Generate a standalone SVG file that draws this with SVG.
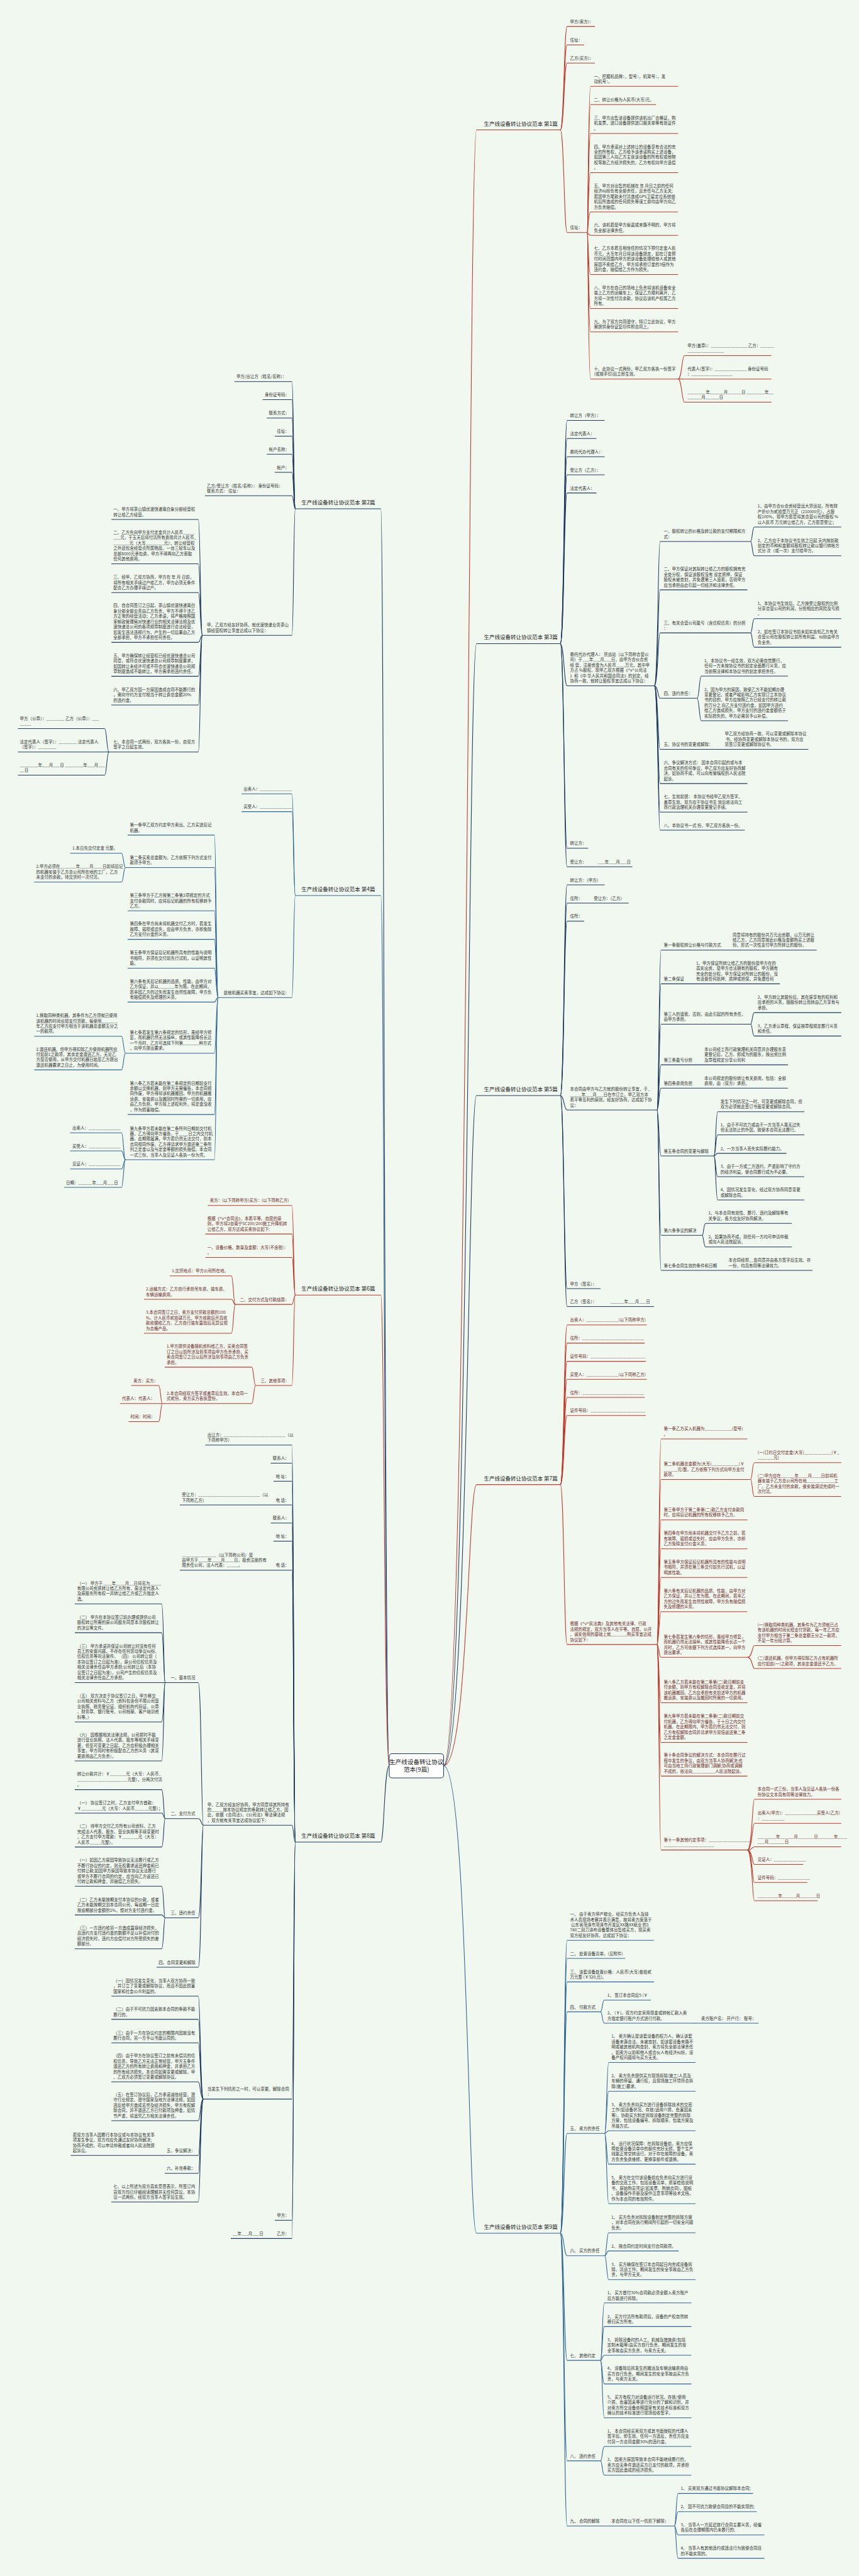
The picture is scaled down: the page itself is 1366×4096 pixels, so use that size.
<svg xmlns="http://www.w3.org/2000/svg" width="1366" height="4096" viewBox="0 0 1366 4096">
<style>
text{font-family:"Noto Sans CJK SC","Noto Sans",sans-serif;font-size:12.2px;fill:#333;stroke:none}
.lab{font-size:16px;fill:#222}
.ctr{font-size:18px;fill:#222}
path{fill:none;stroke-width:2}
.r{stroke:#c0392b}.n{stroke:#1f3a5f}.b{stroke:#2e6496}
.tr{fill:#6e1f1f}
</style>
<rect width="1366" height="4096" fill="#f0f8ef"/>
<g transform="scale(0.53359375)">
<g id="connectors">
<path class="r" d="M1322,5262 C1395,5262 1395,387 1420,387"/>
<path class="n" d="M1322,5262 C1395,5262 1395,1918 1420,1918"/>
<path class="n" d="M1322,5262 C1395,5262 1395,3264.7 1420,3264.7"/>
<path class="r" d="M1322,5262 C1395,5262 1395,4424 1420,4424"/>
<path class="b" d="M1322,5262 C1395,5262 1395,6655 1420,6655"/>
<path class="n" d="M1160,5262 C1145,5262 1145,1516 1135,1516"/>
<path class="b" d="M1160,5262 C1145,5262 1145,2668.7 1135,2668.7"/>
<path class="r" d="M1160,5262 C1145,5262 1145,3859.3 1135,3859.3"/>
<path class="n" d="M1160,5262 C1145,5262 1145,5489.3 1135,5489.3"/>
<g class="r">
<path d="M1670,387 C1681,387 1681,79 1690,79"/><path d="M1670,387 C1681,387 1681,134 1690,134"/><path d="M1670,387 C1681,387 1681,188 1690,188"/><path d="M1670,387 C1681,387 1681,693 1690,693"/>
<path d="M1750,693 C1753,693 1753,257.3 1760,257.3"/><path d="M1750,693 C1753,693 1753,311.4 1760,311.4"/><path d="M1750,693 C1753,693 1753,397.7 1760,397.7"/><path d="M1750,693 C1753,693 1753,514.6 1760,514.6"/><path d="M1750,693 C1753,693 1753,631.4 1760,631.4"/><path d="M1750,693 C1753,693 1753,701.3 1760,701.3"/><path d="M1750,693 C1753,693 1753,818.1 1760,818.1"/><path d="M1750,693 C1753,693 1753,919.3 1760,919.3"/><path d="M1750,693 C1753,693 1753,989.1 1760,989.1"/><path d="M1750,693 C1753,693 1753,1129.5 1760,1129.5"/>
<path d="M2021,1129.5 C2032,1129.5 2032,1059.8 2040,1059.8"/><path d="M2021,1129.5 H2040"/><path d="M2021,1129.5 C2032,1129.5 2032,1198.6 2040,1198.6"/>
</g>
<g class="n">
<path d="M1670,1918 C1681,1918 1681,1252.7 1690,1252.7"/><path d="M1670,1918 C1681,1918 1681,1306.8 1690,1306.8"/><path d="M1670,1918 C1681,1918 1681,1360.9 1690,1360.9"/><path d="M1670,1918 C1681,1918 1681,1415 1690,1415"/><path d="M1670,1918 C1681,1918 1681,1469 1690,1469"/><path d="M1670,1918 C1681,1918 1681,2043.6 1690,2043.6"/><path d="M1670,1918 C1681,1918 1681,2527.7 1690,2527.7"/><path d="M1670,1918 C1681,1918 1681,2582.8 1690,2582.8"/>
<path d="M1950,2043.6 C1961,2043.6 1961,1613.7 1967,1613.7"/><path d="M1950,2043.6 C1961,2043.6 1961,1757.7 1967,1757.7"/><path d="M1950,2043.6 C1961,2043.6 1961,1886 1967,1886"/><path d="M1950,2043.6 C1961,2043.6 1961,2080.8 1967,2080.8"/><path d="M1950,2043.6 C1961,2043.6 1961,2233 1967,2233"/><path d="M1950,2043.6 C1961,2043.6 1961,2334.9 1967,2334.9"/><path d="M1950,2043.6 C1961,2043.6 1961,2420 1967,2420"/><path d="M1950,2043.6 C1961,2043.6 1961,2473.9 1967,2473.9"/>
<path d="M2237,1613.7 C2242,1613.7 2242,1570.4 2248,1570.4"/><path d="M2237,1613.7 C2242,1613.7 2242,1656.3 2248,1656.3"/>
<path d="M2237,1886 C2242,1886 2242,1843.6 2248,1843.6"/><path d="M2237,1886 C2242,1886 2242,1928.7 2248,1928.7"/>
<path d="M2077.5,2080.8 C2084,2080.8 2084,2014.6 2090,2014.6"/><path d="M2077.5,2080.8 C2084,2080.8 2084,2147.8 2090,2147.8"/>
<path d="M2130,2233 H2140"/>
</g>
<g class="n">
<path d="M1670,3264.7 C1681,3264.7 1681,2636.7 1690,2636.7"/><path d="M1670,3264.7 C1681,3264.7 1681,2691.2 1690,2691.2"/><path d="M1670,3264.7 C1681,3264.7 1681,2745 1690,2745"/><path d="M1670,3264.7 C1681,3264.7 1681,3307.6 1690,3307.6"/><path d="M1670,3264.7 C1681,3264.7 1681,3840 1690,3840"/><path d="M1670,3264.7 C1681,3264.7 1681,3893.4 1690,3893.4"/>
<path d="M1958,3307.6 C1964,3307.6 1964,2831.4 1970,2831.4"/><path d="M1958,3307.6 C1964,3307.6 1964,2931.8 1970,2931.8"/><path d="M1958,3307.6 C1964,3307.6 1964,3051.8 1970,3051.8"/><path d="M1958,3307.6 C1964,3307.6 1964,3173 1970,3173"/><path d="M1958,3307.6 C1964,3307.6 1964,3242.8 1970,3242.8"/><path d="M1958,3307.6 C1964,3307.6 1964,3444.6 1970,3444.6"/><path d="M1958,3307.6 C1964,3307.6 1964,3681 1970,3681"/><path d="M1958,3307.6 C1964,3307.6 1964,3785.6 1970,3785.6"/>
<path d="M2237,3051.8 C2242,3051.8 2242,3017.5 2248,3017.5"/><path d="M2237,3051.8 C2242,3051.8 2242,3087.3 2248,3087.3"/>
<path d="M2127.7,3444.6 C2133,3444.6 2133,3312.8 2139,3312.8"/><path d="M2127.7,3444.6 C2133,3444.6 2133,3381.9 2139,3381.9"/><path d="M2127.7,3444.6 C2133,3444.6 2133,3436.8 2139,3436.8"/><path d="M2127.7,3444.6 C2133,3444.6 2133,3506.4 2139,3506.4"/><path d="M2127.7,3444.6 C2133,3444.6 2133,3575.9 2139,3575.9"/>
<path d="M2092.8,3681 C2097,3681 2097,3645.5 2103,3645.5"/><path d="M2092.8,3681 C2097,3681 2097,3716 2103,3716"/>
</g>
<g class="r">
<path d="M1670,4424 C1681,4424 1681,3948.3 1690,3948.3"/><path d="M1670,4424 C1681,4424 1681,4002.3 1690,4002.3"/><path d="M1670,4424 C1681,4424 1681,4056.7 1690,4056.7"/><path d="M1670,4424 C1681,4424 1681,4110.5 1690,4110.5"/><path d="M1670,4424 C1681,4424 1681,4164.3 1690,4164.3"/><path d="M1670,4424 C1681,4424 1681,4218.2 1690,4218.2"/><path d="M1670,4424 C1681,4424 1681,4900.5 1690,4900.5"/>
<path d="M1958,4900.5 C1964,4900.5 1964,4288 1970,4288"/><path d="M1958,4900.5 C1964,4900.5 1964,4408.7 1970,4408.7"/><path d="M1958,4900.5 C1964,4900.5 1964,4529.3 1970,4529.3"/><path d="M1958,4900.5 C1964,4900.5 1964,4615.3 1970,4615.3"/><path d="M1958,4900.5 C1964,4900.5 1964,4700.7 1970,4700.7"/><path d="M1958,4900.5 C1964,4900.5 1964,4802.7 1970,4802.7"/><path d="M1958,4900.5 C1964,4900.5 1964,4938.8 1970,4938.8"/><path d="M1958,4900.5 C1964,4900.5 1964,5074.2 1970,5074.2"/><path d="M1958,4900.5 C1964,4900.5 1964,5192.1 1970,5192.1"/><path d="M1958,4900.5 C1964,4900.5 1964,5292.6 1970,5292.6"/><path d="M1958,4900.5 C1964,4900.5 1964,5512.8 1970,5512.8"/>
<path d="M2237,4408.7 C2242,4408.7 2242,4358.6 2248,4358.6"/><path d="M2237,4408.7 C2242,4408.7 2242,4459.4 2248,4459.4"/>
<path d="M2227.5,4938.8 C2242,4938.8 2242,4903.6 2248,4903.6"/><path d="M2227.5,4938.8 C2242,4938.8 2242,4972 2248,4972"/>
<path d="M2227.5,5512.8 C2242,5512.8 2242,5361.6 2248,5361.6"/><path d="M2227.5,5512.8 C2242,5512.8 2242,5433.3 2248,5433.3"/><path d="M2227.5,5512.8 C2242,5512.8 2242,5503.1 2248,5503.1"/><path d="M2227.5,5512.8 C2242,5512.8 2242,5555.6 2248,5555.6"/><path d="M2227.5,5512.8 C2242,5512.8 2242,5609.7 2248,5609.7"/><path d="M2227.5,5512.8 C2242,5512.8 2242,5663.9 2248,5663.9"/>
</g>
<g class="b">
<path d="M1670,6655 C1681,6655 1681,5781.9 1690,5781.9"/><path d="M1670,6655 C1681,6655 1681,5836 1690,5836"/><path d="M1670,6655 C1681,6655 1681,5906 1690,5906"/><path d="M1670,6655 C1681,6655 1681,5995 1690,5995"/><path d="M1670,6655 C1681,6655 1681,6357.5 1690,6357.5"/><path d="M1670,6655 C1681,6655 1681,6721.9 1690,6721.9"/><path d="M1670,6655 C1681,6655 1681,7033.7 1690,7033.7"/><path d="M1670,6655 C1681,6655 1681,7333 1690,7333"/><path d="M1670,6655 C1681,6655 1681,7527.3 1690,7527.3"/>
<path d="M1789.8,5995 C1795,5995 1795,5960 1801,5960"/><path d="M1789.8,5995 C1795,5995 1795,6029 1801,6029"/><path d="M2063,6029 H2080"/>
<path d="M1802,6357.5 C1808,6357.5 1808,6146 1814,6146"/><path d="M1802,6357.5 C1808,6357.5 1808,6231.8 1814,6231.8"/><path d="M1802,6357.5 C1808,6357.5 1808,6349.5 1814,6349.5"/><path d="M1802,6357.5 C1808,6357.5 1808,6449 1814,6449"/><path d="M1802,6357.5 C1808,6357.5 1808,6566.9 1814,6566.9"/>
<path d="M1802,6721.9 C1808,6721.9 1808,6653.3 1814,6653.3"/><path d="M1802,6721.9 C1808,6721.9 1808,6707.6 1814,6707.6"/><path d="M1802,6721.9 C1808,6721.9 1808,6793.2 1814,6793.2"/>
<path d="M1789.8,7033.7 C1795,7033.7 1795,6862.6 1801,6862.6"/><path d="M1789.8,7033.7 C1795,7033.7 1795,6933 1801,6933"/><path d="M1789.8,7033.7 C1795,7033.7 1795,7018.6 1801,7018.6"/><path d="M1789.8,7033.7 C1795,7033.7 1795,7104 1801,7104"/><path d="M1789.8,7033.7 C1795,7033.7 1795,7204.8 1801,7204.8"/>
<path d="M1789.8,7333 C1795,7333 1795,7290.3 1801,7290.3"/><path d="M1789.8,7333 C1795,7333 1795,7375.8 1801,7375.8"/>
<path d="M1802,7527.3 H1812"/>
<path d="M2010,7527.3 C2015,7527.3 2015,7430 2021,7430"/><path d="M2010,7527.3 C2015,7527.3 2015,7484.5 2021,7484.5"/><path d="M2010,7527.3 C2015,7527.3 2015,7554 2021,7554"/><path d="M2010,7527.3 C2015,7527.3 2015,7623.5 2021,7623.5"/>
</g>
<g class="n">
<path d="M880,1516 C875,1516 875,1137.2 870,1137.2"/><path d="M880,1516 C875,1516 875,1191.1 870,1191.1"/><path d="M880,1516 C875,1516 875,1245.8 870,1245.8"/><path d="M880,1516 C875,1516 875,1299.7 870,1299.7"/><path d="M880,1516 C875,1516 875,1353.6 870,1353.6"/><path d="M880,1516 C875,1516 875,1407.5 870,1407.5"/><path d="M880,1516 C875,1516 875,1477.3 870,1477.3"/><path d="M880,1516 C875,1516 875,1893.2 870,1893.2"/>
<path d="M603,1893.2 C597,1893.2 597,1548 591,1548"/><path d="M603,1893.2 C597,1893.2 597,1680.2 591,1680.2"/><path d="M603,1893.2 C597,1893.2 597,1766 591,1766"/><path d="M603,1893.2 C597,1893.2 597,1914.2 591,1914.2"/><path d="M603,1893.2 C597,1893.2 597,2015.3 591,2015.3"/><path d="M603,1893.2 C597,1893.2 597,2101 591,2101"/><path d="M603,1893.2 C597,1893.2 597,2240.8 591,2240.8"/>
<path d="M325,2240.8 C318,2240.8 318,2171 312,2171"/><path d="M325,2240.8 H312"/><path d="M325,2240.8 C318,2240.8 318,2309.9 312,2309.9"/>
</g>
<g class="b">
<path d="M880,2668.7 C875,2668.7 875,2365.4 870,2365.4"/><path d="M880,2668.7 C875,2668.7 875,2418.7 870,2418.7"/><path d="M880,2668.7 C875,2668.7 875,2972.6 870,2972.6"/>
<path d="M650,2972.6 C644,2972.6 644,2488.6 639,2488.6"/><path d="M650,2972.6 C644,2972.6 644,2585.4 639,2585.4"/><path d="M650,2972.6 C644,2972.6 644,2714.2 639,2714.2"/><path d="M650,2972.6 C644,2972.6 644,2799.2 639,2799.2"/><path d="M650,2972.6 C644,2972.6 644,2885.1 639,2885.1"/><path d="M650,2972.6 C644,2972.6 644,2986.1 639,2986.1"/><path d="M650,2972.6 C644,2972.6 644,3138.5 639,3138.5"/><path d="M650,2972.6 C644,2972.6 644,3321.1 639,3321.1"/><path d="M650,2972.6 C644,2972.6 644,3455.8 639,3455.8"/>
<path d="M374,2585.4 C368,2585.4 368,2542.5 362,2542.5"/><path d="M374,2585.4 C368,2585.4 368,2628.3 362,2628.3"/>
<path d="M374,3138.5 C368,3138.5 368,3088 362,3088"/><path d="M374,3138.5 C368,3138.5 368,3188.1 362,3188.1"/>
<path d="M374,3455.8 C368,3455.8 368,3375.8 362,3375.8"/><path d="M374,3455.8 C368,3455.8 368,3429.7 362,3429.7"/><path d="M374,3455.8 C368,3455.8 368,3483.6 362,3483.6"/><path d="M374,3455.8 C368,3455.8 368,3538.3 362,3538.3"/>
</g>
<g class="r">
<path d="M880,3859.3 C875,3859.3 875,3592.2 870,3592.2"/><path d="M880,3859.3 C875,3859.3 875,3677.2 870,3677.2"/><path d="M880,3859.3 C875,3859.3 875,3747.3 870,3747.3"/><path d="M880,3859.3 C875,3859.3 875,3887.1 870,3887.1"/><path d="M880,3859.3 C875,3859.3 875,4128.7 870,4128.7"/>
<path d="M701,3887.1 C695.6,3887.1 695.6,3802 689.5,3802"/><path d="M701,3887.1 C695.6,3887.1 695.6,3872 689.5,3872"/><path d="M701,3887.1 C695.6,3887.1 695.6,3973 689.5,3973"/>
<path d="M762,4128.7 C756,4128.7 756,4074 750,4074"/><path d="M762,4128.7 C756,4128.7 756,4182.6 750,4182.6"/>
<path d="M484,4182.6 C478.7,4182.6 478.7,4128.7 472.6,4128.7"/><path d="M484,4182.6 H472.6"/><path d="M484,4182.6 C478.7,4182.6 478.7,4236.4 472.6,4236.4"/>
</g>
<g class="n">
<path d="M880,5489.3 C875,5489.3 875,4306.3 870,4306.3"/><path d="M880,5489.3 C875,5489.3 875,4360.2 870,4360.2"/><path d="M880,5489.3 C875,5489.3 875,4414 870,4414"/><path d="M880,5489.3 C875,5489.3 875,4484.8 870,4484.8"/><path d="M880,5489.3 C875,5489.3 875,4538.6 870,4538.6"/><path d="M880,5489.3 C875,5489.3 875,4592.5 870,4592.5"/><path d="M880,5489.3 C875,5489.3 875,4679.2 870,4679.2"/><path d="M880,5489.3 C875,5489.3 875,5438.9 870,5438.9"/><path d="M880,5489.3 C875,5489.3 875,6255 870,6255"/><path d="M880,5489.3 C875,5489.3 875,6616.2 870,6616.2"/><path d="M880,5489.3 C875,5489.3 875,6670.6 870,6670.6"/>
<path d="M606,5438.9 C600,5438.9 600,5014.2 591,5014.2"/><path d="M606,5438.9 C600,5438.9 600,5419.3 591,5419.3"/><path d="M606,5438.9 C600,5438.9 600,5715 591,5715"/><path d="M606,5438.9 C600,5438.9 600,5862 591,5862"/>
<path d="M492,5014.2 C487.8,5014.2 487.8,4779.4 481.7,4779.4"/><path d="M492,5014.2 C487.8,5014.2 487.8,4865.3 481.7,4865.3"/><path d="M492,5014.2 H481.7"/><path d="M492,5014.2 C487.8,5014.2 487.8,5131.3 481.7,5131.3"/><path d="M492,5014.2 C487.8,5014.2 487.8,5247.5 481.7,5247.5"/>
<path d="M492,5419.3 C487.8,5419.3 487.8,5333 481.7,5333"/><path d="M492,5419.3 C487.8,5419.3 487.8,5403 481.7,5403"/><path d="M492,5419.3 C487.8,5419.3 487.8,5503.9 481.7,5503.9"/>
<path d="M492,5715 C487.8,5715 487.8,5621 481.7,5621"/><path d="M492,5715 C487.8,5715 487.8,5706.4 481.7,5706.4"/><path d="M492,5715 C487.8,5715 487.8,5807.2 481.7,5807.2"/>
<path d="M606,6255 C597,6255 597,5948.3 591,5948.3"/><path d="M606,6255 C597,6255 597,6017.5 591,6017.5"/><path d="M606,6255 C597,6255 597,6087.6 591,6087.6"/><path d="M606,6255 C597,6255 597,6203.8 591,6203.8"/><path d="M606,6255 C597,6255 597,6319.3 591,6319.3"/><path d="M606,6255 C597,6255 597,6423 591,6423"/><path d="M606,6255 C597,6255 597,6476.5 591,6476.5"/><path d="M606,6255 C597,6255 597,6561.7 591,6561.7"/>
<path d="M490.8,6423 H480"/>
</g>
</g>
<g id="center">
<rect x="1160" y="5226" width="162" height="72" rx="8" fill="#fff" stroke="#1f3a5f" stroke-width="2"/>
<text class="ctr" x="1241" y="5256" text-anchor="middle">生产线设备转让协议<tspan x="1241" dy="24">范本(9篇)</tspan></text>
</g>
<g id="labels">
<g id="lab1"><path class="r" d="M1420,387 H1670"/><text class="lab" x="1662" y="374" text-anchor="end">生产线设备转让协议范本 第1篇</text></g>
<g id="lab3"><path class="n" d="M1420,1918 H1670"/><text class="lab" x="1662" y="1905" text-anchor="end">生产线设备转让协议范本 第3篇</text></g>
<g id="lab5"><path class="n" d="M1420,3264.7 H1670"/><text class="lab" x="1662" y="3252" text-anchor="end">生产线设备转让协议范本 第5篇</text></g>
<g id="lab7"><path class="r" d="M1420,4424 H1670"/><text class="lab" x="1662" y="4411" text-anchor="end">生产线设备转让协议范本 第7篇</text></g>
<g id="lab9"><path class="b" d="M1420,6655 H1670"/><text class="lab" x="1662" y="6642" text-anchor="end">生产线设备转让协议范本 第9篇</text></g>
<g id="lab2"><path class="n" d="M880,1516 H1135"/><text class="lab" x="898" y="1503">生产线设备转让协议范本 第2篇</text></g>
<g id="lab4"><path class="b" d="M880,2668.7 H1135"/><text class="lab" x="898" y="2656">生产线设备转让协议范本 第4篇</text></g>
<g id="lab6"><path class="r" d="M880,3859.3 H1135"/><text class="lab" x="898" y="3846">生产线设备转让协议范本 第6篇</text></g>
<g id="lab8"><path class="n" d="M880,5489.3 H1135"/><text class="lab" x="898" y="5476">生产线设备转让协议范本 第8篇</text></g>
</g>
<g id="r1" class="r">
<g id="r1a"><path d="M1690,79 H1773"/><text x="1699" y="69">甲方(卖方)：</text></g>
<g id="r1b"><path d="M1690,134 H1741"/><text x="1699" y="124">住址：</text></g>
<g id="r1c"><path d="M1690,188 H1773"/><text x="1699" y="178">乙方(买方)：</text></g>
<g id="r1d"><path d="M1690,693 H1750"/><text x="1699" y="683">住址：</text></g>
<g id="r1d1"><path d="M1760,257.3 H2021"/><text x="1770" y="231.5">一、挖掘机品牌：，型号：，机架号：，发<tspan x="1770" dy="15.8">动机号：。</tspan></text></g>
<g id="r1d2"><path d="M1760,311.4 H1955"/><text x="1770" y="301.4">二、转让价格为人民币(大写)元。</text></g>
<g id="r1d3"><path d="M1760,397.7 H2021"/><text x="1770" y="356.1">三、甲方出售该设备提供该机出厂合格证，购<tspan x="1770" dy="15.8">机发票，进口设备提供进口报关单等有效证件</tspan><tspan x="1770" dy="15.8">。</tspan></text></g>
<g id="r1d4"><path d="M1760,514.6 H2021"/><text x="1770" y="441.4">四、甲方承诺对上述转让的设备享有合法的完<tspan x="1770" dy="15.8">全的所有权，乙方给予该承诺购买上述设备，</tspan><tspan x="1770" dy="15.8">如因第三人向乙方主张该设备的所有权或他物</tspan><tspan x="1770" dy="15.8">权导致乙方经济损失的，乙方有权向甲方追偿</tspan><tspan x="1770" dy="15.8">。</tspan></text></g>
<g id="r1d5"><path d="M1760,631.4 H2021"/><text x="1770" y="558.2">五、甲方对出售的机械在 年 月日之前的任何<tspan x="1770" dy="15.8">经济纠纷负有全部责任，且责任与乙方无关;</tspan><tspan x="1770" dy="15.8">若因甲方尾款未付清造成GPS卫星定位系统锁</tspan><tspan x="1770" dy="15.8">机后所造成的任何损失等误工费均由甲方向乙</tspan><tspan x="1770" dy="15.8">方负责赔偿。</tspan></text></g>
<g id="r1d6"><path d="M1760,701.3 H2021"/><text x="1770" y="675.5">六、该机若是甲方偷盗或来路不明的，甲方将<tspan x="1770" dy="15.8">负全部法律责任。</tspan></text></g>
<g id="r1d7"><path d="M1760,818.1 H2021"/><text x="1770" y="744.9">七、乙方本着互相信任的情况下预付定金人民<tspan x="1770" dy="15.8">币元，大写年月日将该设备提走，如在订金预</tspan><tspan x="1770" dy="15.8">付时间范围内甲方把该设备处理给他人或其他</tspan><tspan x="1770" dy="15.8">原因不卖给乙方，甲方将承担订金的3倍作为</tspan><tspan x="1770" dy="15.8">违约金，赔偿给乙方作为损失。</tspan></text></g>
<g id="r1d8"><path d="M1760,919.3 H2021"/><text x="1770" y="861.9">八、甲方在自己的场地上负责将该机设备安全<tspan x="1770" dy="15.8">装上乙方的运输车上，保证乙方顺利离开，乙</tspan><tspan x="1770" dy="15.8">方将一次性付清余款，协议后该机产权属乙方</tspan><tspan x="1770" dy="15.8">所有。</tspan></text></g>
<g id="r1d9"><path d="M1760,989.1 H2021"/><text x="1770" y="963.3">九、为了双方共同遵守，特订立此协议，甲方<tspan x="1770" dy="15.8">需提供身份证复印件附合同上。</tspan></text></g>
<g id="r1d10"><path d="M1760,1129.5 H2021"/><text x="1770" y="1103.7">十、此协议一式两份，甲乙双方各执一份签字<tspan x="1770" dy="15.8">(或按手印)后立即生效。</tspan></text></g>
<g id="r1e1"><path d="M2040,1059.8 H2299"/><text x="2049" y="1034">甲方(盖章)：________________ 乙方：______<tspan x="2049" dy="15.8">________________</tspan></text></g>
<g id="r1e2"><path d="M2040,1129.5 H2299"/><text x="2049" y="1103.7">代表人(签字)：______________ 身份证号码<tspan x="2049" dy="15.8">：__________________</tspan></text></g>
<g id="r1e3"><path d="M2040,1198.6 H2299"/><text x="2049" y="1172.8">________年______月______日 ________年__<tspan x="2049" dy="15.8">______月______日</tspan></text></g>
</g>
<g id="r3" class="n">
<g id="r3a"><path d="M1690,1252.7 H1802"/><text x="1699" y="1242.7">转让方（甲方）：</text></g>
<g id="r3b"><path d="M1690,1306.8 H1777.5"/><text x="1699" y="1296.8">法定代表人：</text></g>
<g id="r3c"><path d="M1690,1360.9 H1802"/><text x="1699" y="1350.9">委托代办代理人：</text></g>
<g id="r3d"><path d="M1690,1415 H1802"/><text x="1699" y="1405">受让方（乙方）：</text></g>
<g id="r3e"><path d="M1690,1469 H1777.5"/><text x="1699" y="1459">法定代表人：</text></g>
<g id="r3f"><path d="M1690,2043.6 H1950"/><text x="1699" y="1954.6">委托代办代理人： 货运站（以下简称合营公<tspan x="1699" dy="15.8">司）于___年___月___日，由甲方合伙合资</tspan><tspan x="1699" dy="15.8">经 营，注册资金为人民币____万元，其中甲</tspan><tspan x="1699" dy="15.8">方占 %股权。现甲乙双方根据《^v^公司法</tspan><tspan x="1699" dy="15.8">》和《中 华人民共和国合同法》的划定，经</tspan><tspan x="1699" dy="15.8">协商一致，就转让股权事宜达成以下协议：</tspan></text></g>
<g id="r3g"><path d="M1690,2527.7 H1753"/><text x="1699" y="2517.7">转让方：</text></g>
<g id="r3h"><path d="M1690,2582.8 H1884.7"/><text x="1699" y="2572.8">受让方：</text><text x="1782" y="2572.8">___年___月___日</text></g>
<g id="r3f1"><path d="M1967,1613.7 H2237"/><text x="1978" y="1587.9">一、股权转让的价格及转让款的支付期限和方<tspan x="1978" dy="15.8">式：</tspan></text></g>
<g id="r3f1a"><path d="M2248,1570.4 H2507"/><text x="2258" y="1513"> 1、由甲方合伙合资经营远大货运站，所有财<tspan x="2258" dy="15.8">产折价为贰拾壹万元正（210000元），占股</tspan><tspan x="2258" dy="15.8">权100%，现甲方愿意将其合营公司的股权 %</tspan><tspan x="2258" dy="15.8">以人民币 万元转让给乙方，乙方愿意受让；</tspan></text></g>
<g id="r3f1b"><path d="M2248,1656.3 H2507"/><text x="2258" y="1614.7">2、乙方应于本协议书生效之日起 天内按前款<tspan x="2258" dy="15.8">划定的币种和金额将股权转让款以银行转帐方</tspan><tspan x="2258" dy="15.8">式分 次（或一次）支付给甲方。</tspan></text></g>
<g id="r3f2"><path d="M1967,1757.7 H2227.5"/><text x="1978" y="1700.3">二、甲方保证对其拟转让给乙方的股权拥有完<tspan x="1978" dy="15.8">全处分权，保证该股权没有 设定质押，保证</tspan><tspan x="1978" dy="15.8">股权未被查封，并免遭第三人追索，否则甲方</tspan><tspan x="1978" dy="15.8">应当承担由此引起一切经济和法律责任。</tspan></text></g>
<g id="r3f3"><path d="M1967,1886 H2237"/><text x="1978" y="1860.2">三、有关合营公司盈亏（含债权债务）的分担<tspan x="1978" dy="15.8">：</tspan></text></g>
<g id="r3f3a"><path d="M2248,1843.6 H2507"/><text x="2258" y="1802">1、本协议书生效后，乙方按受让股权的比例<tspan x="2258" dy="15.8">分享合营公司的利润，分担相应的风险及亏损</tspan><tspan x="2258" dy="15.8">。</tspan></text></g>
<g id="r3f3b"><path d="M2248,1928.7 H2507"/><text x="2258" y="1887.1">2、如在签订本协议书前未如实告知乙方有关<tspan x="2258" dy="15.8">合营公司在股权转让前所有利益、纠纷由甲方</tspan><tspan x="2258" dy="15.8">负全责。</tspan></text></g>
<g id="r3f4"><path d="M1967,2080.8 H2077.5"/><text x="1978" y="2070.8">四、违约责任：</text></g>
<g id="r3f4a"><path d="M2090,2014.6 H2348"/><text x="2099" y="1973">1、本协议书一经生效，双方必需自觉履行，<tspan x="2099" dy="15.8">任何一方未按协议书的划定全面履行义务，应</tspan><tspan x="2099" dy="15.8">当依照法律和本协议书的划定承担责任。</tspan></text></g>
<g id="r3f4b"><path d="M2090,2147.8 H2348"/><text x="2099" y="2058.8">2、因为甲方的原因，致使乙方不能如期办理<tspan x="2099" dy="15.8">变更登记，或者严峻影响乙方实现订立本协议</tspan><tspan x="2099" dy="15.8">书的目的，甲方应按照乙方已经支付的转让款</tspan><tspan x="2099" dy="15.8">的万分之 向乙方支付违约金。如因甲方违约</tspan><tspan x="2099" dy="15.8">给乙方造成损失，甲方支付的违约金金额低于</tspan><tspan x="2099" dy="15.8">实际损失的，甲方必需另予以补偿。</tspan></text></g>
<g id="r3f5"><path d="M1967,2233 H2130"/><text x="1978" y="2223">五、协议书的变更或解除：</text></g>
<g id="r3f5a"><path d="M2140,2233 H2409"/><text x="2160" y="2191.4">甲乙双方经协商一致，可以变更或解除本协议<tspan x="2160" dy="15.8"> 书。经协商变更或解除本协议书的，双方应</tspan><tspan x="2160" dy="15.8">另签订变更或解除协议书。</tspan></text></g>
<g id="r3f6"><path d="M1967,2334.9 H2227.5"/><text x="1978" y="2277.5">六、争议解决方式： 因本合同引起的或与本<tspan x="1978" dy="15.8">合同有关的任何争议，甲乙双方应友好协商解</tspan><tspan x="1978" dy="15.8">决，如协商不成，可以向有管辖权的人民法院</tspan><tspan x="1978" dy="15.8">起诉。</tspan></text></g>
<g id="r3f7"><path d="M1967,2420 H2227.5"/><text x="1978" y="2378.4">七、生效前提： 本协议书经甲乙双方签字、<tspan x="1978" dy="15.8">盖章生效。双方应于协议书生 效后依法向工</tspan><tspan x="1978" dy="15.8">商行政治理机关办理变更登记手续。</tspan></text></g>
<g id="r3f8"><path d="M1967,2473.9 H2219.6"/><text x="1978" y="2463.9">八、本协议书一式 份，甲乙双方各执一份。</text></g>
</g>
<g id="r5" class="n">
<g id="r5a"><path d="M1690,2636.7 H1802"/><text x="1699" y="2626.7">转让方：（甲方）</text></g>
<g id="r5b"><path d="M1690,2691.2 H1873.6"/><text x="1699" y="2681.2">住所：</text><text x="1769.6" y="2681.2">受让方：（乙方）</text></g>
<g id="r5c"><path d="M1690,2745 H1741"/><text x="1699" y="2735">住所：</text></g>
<g id="r5d"><path d="M1690,3307.6 H1958"/><text x="1699" y="3250.2">本合同由甲方与乙方就的股份转让事宜，于_<tspan x="1699" dy="15.8">_____年___月___日在市订立。甲乙双方本</tspan><tspan x="1699" dy="15.8">着平等互利的原则，经友好协商，达成如下协</tspan><tspan x="1699" dy="15.8">议：</tspan></text></g>
<g id="r5e"><path d="M1690,3840 H1789.8"/><text x="1699" y="3830">甲方（签名）：</text></g>
<g id="r5f"><path d="M1690,3893.4 H1949"/><text x="1699" y="3883.4">乙方（签名）：</text><text x="1819" y="3883.4">______年___月___日</text></g>
<g id="r5d1"><path d="M1970,2831.4 H2434"/><text x="1978" y="2821.4">第一条股权转让价格与付款方式</text><text x="2183.4" y="2789.8">同意将持有的股份共万元出资额，以万元转让<tspan x="2183.4" dy="15.8">给乙方，乙方同意按此价格及金额购买上述股</tspan><tspan x="2183.4" dy="15.8">份。形式一次性支付甲方所转让的股份。</tspan></text></g>
<g id="r5d2"><path d="M1970,2931.8 H2324"/><text x="1978" y="2921.8">第二条保证</text><text x="2074.5" y="2874.4">1、甲方保证所转让给乙方的股份是甲方在的<tspan x="2074.5" dy="15.8">真实出资，是甲方合法拥有的股权，甲方拥有</tspan><tspan x="2074.5" dy="15.8">完全的处分权。甲方保证对所转让的股份，没</tspan><tspan x="2074.5" dy="15.8">有设置任何抵押、质押或担保，并免遭任何</tspan></text></g>
<g id="r5d3"><path d="M1970,3051.8 H2237"/><text x="1978" y="3026">第三人的追索。否则，由此引起的所有责任，<tspan x="1978" dy="15.8">由甲方承担。</tspan></text></g>
<g id="r5d3a"><path d="M2248,3017.5 H2507"/><text x="2258" y="2975.9">2、甲方转让其股份后，其在原享有的权利和<tspan x="2258" dy="15.8">应承担的义务，随股份转让而转由乙方享有与</tspan><tspan x="2258" dy="15.8">承担。</tspan></text></g>
<g id="r5d3b"><path d="M2248,3087.3 H2507"/><text x="2258" y="3061.5">3、乙方承认章程，保证按章程规定履行义务<tspan x="2258" dy="15.8">和责任。</tspan></text></g>
<g id="r5d4"><path d="M1970,3173 H2348"/><text x="1978" y="3163">第三条盈亏分担</text><text x="2099" y="3131.4">本公司经工商行政管理机关同意并办理股东变<tspan x="2099" dy="15.8">更登记后，乙方、即成为的股东，按出资比例</tspan><tspan x="2099" dy="15.8">及章程规定分享公司利</tspan></text></g>
<g id="r5d5"><path d="M1970,3242.8 H2348"/><text x="1978" y="3232.8">第四条费用负担</text><text x="2099" y="3217">本公司规定的股份转让有关费用，包括：全部<tspan x="2099" dy="15.8">费用，由（双方）承担。</tspan></text></g>
<g id="r5d6"><path d="M1970,3444.6 H2127.7"/><text x="1978" y="3434.6">第五条合同的变更与解除</text></g>
<g id="r5d6a"><path d="M2139,3312.8 H2397"/><text x="2147" y="3287">发生下列情况之一时，可变更或解除合同，但<tspan x="2147" dy="15.8">双方必须就此签订书面变更或解除合同。</tspan></text></g>
<g id="r5d6b"><path d="M2139,3381.9 H2397"/><text x="2147" y="3356.1">1、由于不可抗力或由于一方当事人虽无过失<tspan x="2147" dy="15.8">但无法防止的外因，致使本合同无法履行。</tspan></text></g>
<g id="r5d6c"><path d="M2139,3436.8 H2343.8"/><text x="2147" y="3426.8">2、一方当事人丧失实际履约能力。</text></g>
<g id="r5d6d"><path d="M2139,3506.4 H2397"/><text x="2147" y="3480.6">3、由于一方或二方违约，严重影响了守约方<tspan x="2147" dy="15.8">的经济利益，使合同履行成为不必要。</tspan></text></g>
<g id="r5d6e"><path d="M2139,3575.9 H2397"/><text x="2147" y="3550.1">4、因情况发生变化，经过双方协商同意变更<tspan x="2147" dy="15.8">或解除合同。</tspan></text></g>
<g id="r5d7"><path d="M1970,3681 H2092.8"/><text x="1978" y="3671">第六条争议的解决</text></g>
<g id="r5d7a"><path d="M2103,3645.5 H2360"/><text x="2111" y="3619.7">1、与本合同有效性、履行、违约及解除等有<tspan x="2111" dy="15.8">关争议，各方应友好协商解决。</tspan></text></g>
<g id="r5d7b"><path d="M2103,3716 H2360"/><text x="2111" y="3690.2">2、如果协商不成，则任何一方均可申请仲裁<tspan x="2111" dy="15.8">或向人民法院起诉。</tspan></text></g>
<g id="r5d8"><path d="M1970,3785.6 H2421.6"/><text x="1978" y="3775.6">第七条合同生效的条件和日期</text><text x="2171" y="3759.8">本合同经郑__会同意并由各方签字后生效。存<tspan x="2171" dy="15.8">一份，均具有同等法律效力。</tspan></text></g>
</g>
<g id="r7" class="r">
<g id="r7a"><path d="M1690,3948.3 H1927.5"/><text class="tr" x="1699" y="3938.3">出卖人：______________(以下简称甲方)</text></g>
<g id="r7b"><path d="M1690,4002.3 H1921.4"/><text class="tr" x="1699" y="3992.3">住所：___________________________</text></g>
<g id="r7c"><path d="M1690,4056.7 H1924.5"/><text class="tr" x="1699" y="4046.7">证件号码：________________________</text></g>
<g id="r7d"><path d="M1690,4110.5 H1927.5"/><text class="tr" x="1699" y="4100.5">买受人：______________(以下简称乙方)</text></g>
<g id="r7e"><path d="M1690,4164.3 H1921.4"/><text class="tr" x="1699" y="4154.3">住所：___________________________</text></g>
<g id="r7f"><path d="M1690,4218.2 H1924.5"/><text class="tr" x="1699" y="4208.2">证件号码：________________________</text></g>
<g id="r7g"><path d="M1690,4900.5 H1958"/><text class="tr" x="1699" y="4843.1">根据《^v^民法典》及其他有关法律、行政<tspan x="1699" dy="15.8">法规的规定，双方当事人在平等、自愿、公开</tspan><tspan x="1699" dy="15.8">、诚实信用的基础上就_______购买事宜达成</tspan><tspan x="1699" dy="15.8">协议如下：</tspan></text></g>
<g id="r7g1"><path d="M1970,4288 H2227.5"/><text class="tr" x="1978" y="4262.2">第一条乙方买入机器为____________(型号)<tspan x="1978" dy="15.8">。</tspan></text></g>
<g id="r7g2"><path d="M1970,4408.7 H2237"/><text class="tr" x="1978" y="4367.1">第二条机器总金额为(大写)____________(￥<tspan x="1978" dy="15.8">______元)整。乙方依照下列方式向甲方支付</tspan><tspan x="1978" dy="15.8">款项。</tspan></text></g>
<g id="r7g2a"><path d="M2248,4358.6 H2507"/><text class="tr" x="2258" y="4332.8">(一)订约日交付定金(大写)____________(￥_<tspan x="2258" dy="15.8">_______元)</tspan></text></g>
<g id="r7g2b"><path d="M2248,4459.4 H2507"/><text class="tr" x="2258" y="4402">(二)甲方应在______年____月____日前将机<tspan x="2258" dy="15.8">器安装于乙方总公司所在地____________工</tspan><tspan x="2258" dy="15.8">厂。乙方未支付的余款，俟安装调试完成时一</tspan><tspan x="2258" dy="15.8">次付清。</tspan></text></g>
<g id="r7g3"><path d="M1970,4529.3 H2227.5"/><text class="tr" x="1978" y="4503.5">第三条甲方于第二条第(二)款乙方支付余款同<tspan x="1978" dy="15.8">时，应将后记机器的所有权移转予乙方。</tspan></text></g>
<g id="r7g4"><path d="M1970,4615.3 H2227.5"/><text class="tr" x="1978" y="4573.7">第四条在甲方尚未将机器交付予乙方之前，若<tspan x="1978" dy="15.8">有故障、毁损或遗失时，应由甲方负责，亦即</tspan><tspan x="1978" dy="15.8">乙方免除支付价金义务。</tspan></text></g>
<g id="r7g5"><path d="M1970,4700.7 H2227.5"/><text class="tr" x="1978" y="4659.1">第五条甲方保证后记机器所具有的性能与说明<tspan x="1978" dy="15.8">书相符，并须在第三条交付前先行试机，以证</tspan><tspan x="1978" dy="15.8">明其性能。</tspan></text></g>
<g id="r7g6"><path d="M1970,4802.7 H2227.5"/><text class="tr" x="1978" y="4745.3">第六条有关后记机器的品质、性能，由甲方对<tspan x="1978" dy="15.8">乙方保证，并以三年为限。在此期间，若非乙</tspan><tspan x="1978" dy="15.8">方的过失而发生自然性故障，甲方负有赔偿损</tspan><tspan x="1978" dy="15.8">失及修理的义务。</tspan></text></g>
<g id="r7g7"><path d="M1970,4938.8 H2227.5"/><text class="tr" x="1978" y="4881.4">第七条若发生第六条的情形，虽经甲方修复，<tspan x="1978" dy="15.8">而机器仍然无法操纵，或其性能降低长达一个</tspan><tspan x="1978" dy="15.8">月时，乙方可依据下列方式选择其一，向甲方</tspan><tspan x="1978" dy="15.8">提出要求。</tspan></text></g>
<g id="r7g7a"><path d="M2248,4903.6 H2507"/><text class="tr" x="2258" y="4846.2">(一)换取同种类机器。其条件为乙方须就已占<tspan x="2258" dy="15.8">有该机器的时间长短支付货款，每一年乙方应</tspan><tspan x="2258" dy="15.8">支付甲方相当于第二条总金额五分之一款项，</tspan><tspan x="2258" dy="15.8">不足一年分段计算。</tspan></text></g>
<g id="r7g7b"><path d="M2248,4972 H2507"/><text class="tr" x="2258" y="4946.2">(二)退还机器。但甲方得扣除乙方占有机器所<tspan x="2258" dy="15.8">应付如前(一)之款项，其余定金退还予乙方。</tspan></text></g>
<g id="r7g8"><path d="M1970,5074.2 H2227.5"/><text class="tr" x="1978" y="5016.8">第八条乙方若未能在第二条第(二)款日期前支<tspan x="1978" dy="15.8">付余额，则甲方有权解除合同没收定金，并将</tspan><tspan x="1978" dy="15.8">该机器搬回。乙方应承担有关前述甲方的机器</tspan><tspan x="1978" dy="15.8">搬运费、安装费以及搬回时所需的一切费用。</tspan></text></g>
<g id="r7g9"><path d="M1970,5192.1 H2227.5"/><text class="tr" x="1978" y="5118.9">第九条甲方若未能在第二条第(二)款日期前交<tspan x="1978" dy="15.8">付机器，乙方得向甲方催告，于十日之内交付</tspan><tspan x="1978" dy="15.8">机器。在此期限内，甲方若仍然无法交付，则</tspan><tspan x="1978" dy="15.8">乙方有权解除合同并请求甲方双倍返还第二条</tspan><tspan x="1978" dy="15.8">之定金金额。</tspan></text></g>
<g id="r7g10"><path d="M1970,5292.6 H2227.5"/><text class="tr" x="1978" y="5235.2">第十条合同争议的解决方式：本合同在履行过<tspan x="1978" dy="15.8">程中发生的争议，由双方当事人协商解决;也</tspan><tspan x="1978" dy="15.8">可由当地工商行政管理部门调解;协商或调解</tspan><tspan x="1978" dy="15.8">不成的，依法向__________人民法院起诉。</tspan></text></g>
<g id="r7g11"><path d="M1970,5512.8 H2227.5"/><text class="tr" x="1978" y="5487">第十一条其他约定事项：__________________<tspan x="1978" dy="15.8">______________________</tspan></text></g>
<g id="r7g11a"><path d="M2248,5361.6 H2507"/><text class="tr" x="2258" y="5335.8">本合同一式三份，当事人及见证人各执一份各<tspan x="2258" dy="15.8">份协议文本具有同等法律效力。</tspan></text></g>
<g id="r7g11b"><path d="M2248,5433.3 H2507"/><text class="tr" x="2258" y="5407.5">出卖人(甲方)：______________买受人(乙方)<tspan x="2258" dy="15.8">：__________</tspan></text></g>
<g id="r7g11c"><path d="M2248,5503.1 H2507"/><text class="tr" x="2258" y="5477.3">________年______月_______日_______年____<tspan x="2258" dy="15.8">___月_______日</tspan></text></g>
<g id="r7g11d"><path d="M2248,5555.6 H2394"/><text class="tr" x="2258" y="5545.6">见证人：______________</text></g>
<g id="r7g11e"><path d="M2248,5609.7 H2406"/><text class="tr" x="2258" y="5599.7">证件号码：______________</text></g>
<g id="r7g11f"><path d="M2248,5663.9 H2437"/><text class="tr" x="2258" y="5653.9">_________年______月_______日</text></g>
</g>
<g id="r9" class="b">
<g id="r9a"><path d="M1690,5781.9 H1949"/><text x="1699" y="5708.7">一、 由于卖方停产歇业，经买方负责人及技<tspan x="1699" dy="15.8">术人员现场考察并表示满意，故将卖方座落于</tspan><tspan x="1699" dy="15.8"> 山东省菏泽市菏泽市开发区XX路XX纸业 的1</tspan><tspan x="1699" dy="15.8">760二刮刀涂布设备整体出售给买方，现买卖</tspan><tspan x="1699" dy="15.8">双方经友好协商，达成如下协议：</tspan></text></g>
<g id="r9b"><path d="M1690,5836 H1863"/><text x="1699" y="5826">二、 处置设备清单。(见附件)</text></g>
<g id="r9c"><path d="M1690,5906 H1949"/><text x="1699" y="5880.2">三、 该套设备处置价格：人民币(大写)叁拾贰<tspan x="1699" dy="15.8">万元整 (￥320,元)。</tspan></text></g>
<g id="r9d"><path d="M1690,5995 H1789.8"/><text x="1699" y="5985">四、 付款方式</text></g>
<g id="r9d1"><path d="M1801,5960 H1939.8"/><text x="1810" y="5950">1、 签订本合同后5 (￥</text></g>
<g id="r9d2"><path d="M1801,6029 H2063"/><text x="1810" y="6003.2">2、 (￥)。双方约定采用现金或转帐汇款入卖<tspan x="1810" dy="15.8">方指定银行账户方式进行付款。</tspan></text></g>
<g id="r9d2a"><path d="M2080,6029 H2261"/><text x="2089.8" y="6019">卖方账户名：  开户行：  账号：</text></g>
<g id="r9e"><path d="M1690,6357.5 H1802"/><text x="1699" y="6347.5">五、 卖方的责任</text></g>
<g id="r9e1"><path d="M1814,6146 H2072.6"/><text x="1822" y="6072.8">1、 卖方确认是该套设备的权力人，确认该套<tspan x="1822" dy="15.8">设备来源合法、未被查封。如该套设备来路不</tspan><tspan x="1822" dy="15.8">明或被其他机构查封，卖方将负全部法律责任</tspan><tspan x="1822" dy="15.8">。如卖方以前和他人或合伙人有经济纠纷，设</tspan><tspan x="1822" dy="15.8">备产权问题将与买方无关。</tspan></text></g>
<g id="r9e2"><path d="M1814,6231.8 H2072.6"/><text x="1822" y="6190.2">2、 卖方负责提供买方现场拆除(施工)人员及<tspan x="1822" dy="15.8">车辆的停留、通行权，且现场施工环境符合拆</tspan><tspan x="1822" dy="15.8">除(施工)要求。</tspan></text></g>
<g id="r9e3"><path d="M1814,6349.5 H2072.6"/><text x="1822" y="6276.3">3、 卖方负责向买方进行设备拆除技术的交底<tspan x="1822" dy="15.8">工作(如设备状况、存放/适用介质、危害因素</tspan><tspan x="1822" dy="15.8">等)，协助买方制定拆除设备制定完整的拆除</tspan><tspan x="1822" dy="15.8">方案，包括设备编号、拆除顺序、包装方案及</tspan><tspan x="1822" dy="15.8">吊装方式。</tspan></text></g>
<g id="r9e4"><path d="M1814,6449 H2072.6"/><text x="1822" y="6391.6">4、 运行状况保障：在拆除设备前，卖方应保<tspan x="1822" dy="15.8">障处置设备清单中的部件完好无损，整个生产</tspan><tspan x="1822" dy="15.8">线能正常空转运行。对于存在故障的设备，卖</tspan><tspan x="1822" dy="15.8">方负责免费维修、更换零部件或退换。</tspan></text></g>
<g id="r9e5"><path d="M1814,6566.9 H2072.6"/><text x="1822" y="6493.7">5、 卖方在交付该设备前应负责向买方进行设<tspan x="1822" dy="15.8">备的交底工作。包括设备清单，质量检验说明</tspan><tspan x="1822" dy="15.8">书，原始购买凭证(如发票、购销合同)，图纸</tspan><tspan x="1822" dy="15.8">、设备操作手册及操作注意事项等技术文档，</tspan><tspan x="1822" dy="15.8">作为本合同的有效附件。</tspan></text></g>
<g id="r9f"><path d="M1690,6721.9 H1802"/><text x="1699" y="6711.9">六、 买方的责任</text></g>
<g id="r9f1"><path d="M1814,6653.3 H2072.6"/><text x="1822" y="6611.7">1、 买方负责对拆除设备制定完整的拆除方案<tspan x="1822" dy="15.8">，对本合同在执行期间所引起的一切安全问题</tspan><tspan x="1822" dy="15.8">负责。</tspan></text></g>
<g id="r9f2"><path d="M1814,6707.6 H2022.4"/><text x="1822" y="6697.6">2、 按合同约定时间支付合同款项。</text></g>
<g id="r9f3"><path d="M1814,6793.2 H2072.6"/><text x="1822" y="6751.6">3、 买方确保在签订本合同起日内完成设备拆<tspan x="1822" dy="15.8">除、清运工作。期间发生的安全事故由乙方负</tspan><tspan x="1822" dy="15.8">责，与甲方无关。</tspan></text></g>
<g id="r9g"><path d="M1690,7033.7 H1789.8"/><text x="1699" y="7023.7">七、 其他约定</text></g>
<g id="r9g1"><path d="M1801,6862.6 H2060.4"/><text x="1810" y="6836.8">1、 买方首付30%合同款必须全额入卖方账户<tspan x="1810" dy="15.8">后方能进行拆除。</tspan></text></g>
<g id="r9g2"><path d="M1801,6933 H2060.4"/><text x="1810" y="6907.2">2、 买方付清所有款项后，设备的产权自然转<tspan x="1810" dy="15.8">移归买方所有。</tspan></text></g>
<g id="r9g3"><path d="M1801,7018.6 H2060.4"/><text x="1810" y="6977">3、 拆除设备时的人工、机械及措施费(包括<tspan x="1810" dy="15.8">定制木箱等)由买方自行负责。期间发生的安</tspan><tspan x="1810" dy="15.8">全事故由买方负责，与卖方无关。</tspan></text></g>
<g id="r9g4"><path d="M1801,7104 H2060.4"/><text x="1810" y="7062.4">4、 设备除后拆发生的搬运及车辆运输费用由<tspan x="1810" dy="15.8">买方自行负责。期间发生的安全事故由买方负</tspan><tspan x="1810" dy="15.8">责，与卖方无关。</tspan></text></g>
<g id="r9g5"><path d="M1801,7204.8 H2060.4"/><text x="1810" y="7147.4">5、 买方有权力对设备运行状况、存放/使用<tspan x="1810" dy="15.8">介质、危害因素等进行充分的了解和识别，并</tspan><tspan x="1810" dy="15.8">对卖方所交设备依照国家有关技术标准和双方</tspan><tspan x="1810" dy="15.8">确认的技术标准进行现场验收签字。</tspan></text></g>
<g id="r9h"><path d="M1690,7333 H1789.8"/><text x="1699" y="7323">八、 违约责任</text></g>
<g id="r9h1"><path d="M1801,7290.3 H2060.4"/><text x="1810" y="7248.7">1、 本合同经买卖双方或其书面授权的代理人<tspan x="1810" dy="15.8">签字后，即生效。任何一方违反，责任方应支</tspan><tspan x="1810" dy="15.8">付另一方合同金额30%的违约金。</tspan></text></g>
<g id="r9h2"><path d="M1801,7375.8 H2060.4"/><text x="1810" y="7334.2">2、 因卖方原因导致本合同不能继续履行的，<tspan x="1810" dy="15.8">卖方应无条件退还买方已支付的款项，并承担</tspan><tspan x="1810" dy="15.8">买方因此造成的经济损失。</tspan></text></g>
<g id="r9i"><path d="M1690,7527.3 H1802"/><text x="1699" y="7517.3">九、 合同的解除</text></g>
<g id="r9i0"><path d="M1812,7527.3 H2010"/><text x="1822" y="7517.3">本合同在以下任一情形下解除：</text></g>
<g id="r9i1"><path d="M2021,7430 H2244"/><text x="2028.6" y="7420">1、 买卖双方通过书面协议解除本合同;</text></g>
<g id="r9i2"><path d="M2021,7484.5 H2255"/><text x="2028.6" y="7474.5">2、 因不可抗力致使合同目的不能实现的;</text></g>
<g id="r9i3"><path d="M2021,7554 H2278"/><text x="2028.6" y="7528.2">3、 当事人一方延迟旅行合同主要义务，经催<tspan x="2028.6" dy="15.8">告后在合理期限内仍未履行的;</tspan></text></g>
<g id="r9i4"><path d="M2021,7623.5 H2278"/><text x="2028.6" y="7597.7">4、 当事人有其他违约或违法行为致使合同目<tspan x="2028.6" dy="15.8">的不能实现的。</tspan></text></g>
</g>
<g id="la" class="n">
<g id="laa"><path d="M698.6,1137.2 H870"/><text x="704.7" y="1127.2">甲方/出让方（姓名/名称）：</text></g>
<g id="lab"><path d="M782.8,1191.1 H870"/><text x="789" y="1181.1">身份证号码：</text></g>
<g id="lac"><path d="M795,1245.8 H870"/><text x="801" y="1235.8">联系方式：</text></g>
<g id="lad"><path d="M819,1299.7 H870"/><text x="825" y="1289.7">住址：</text></g>
<g id="lae"><path d="M795,1353.6 H870"/><text x="801" y="1343.6">帐户名称：</text></g>
<g id="laf"><path d="M819,1407.5 H870"/><text x="825" y="1397.5">帐户：</text></g>
<g id="lag"><path d="M610.8,1477.3 H870"/><text x="616.8" y="1451.5">乙方/受让方（姓名/名称）： 身份证号码：<tspan x="616.8" dy="15.8">联系方式：  住址：</tspan></text></g>
<g id="lah"><path d="M603,1893.2 H870"/><text x="616.8" y="1867.4">甲、乙双方经友好协商，就优速快递业务茶山<tspan x="616.8" dy="15.8">镇经营权转让事宜达成以下协议：</tspan></text></g>
<g id="lah1"><path d="M332,1548 H591"/><text x="338" y="1522.2">一、甲方将茶山镇优速快递南白象分部经营权<tspan x="338" dy="15.8">转让给乙方经营。</tspan></text></g>
<g id="lah2"><path d="M332,1680.2 H591"/><text x="338" y="1591.2">二、乙方先向甲方支付定金共计人民币_____<tspan x="338" dy="15.8">___元，于五天后将付清所有费用共计人民币_</tspan><tspan x="338" dy="15.8">_______元（大写________元），转让经营权</tspan><tspan x="338" dy="15.8">之外还包含经营点所属物品，一台三轮车以及</tspan><tspan x="338" dy="15.8">总部8000元承包费，甲方不得再向乙方索取</tspan><tspan x="338" dy="15.8">任何其他费用。</tspan></text></g>
<g id="lah3"><path d="M332,1766 H591"/><text x="338" y="1724.4">三、经甲、乙双方协商，甲方在 年 月 日前，<tspan x="338" dy="15.8">将所有相关手续过户给乙方，甲方必须无条件</tspan><tspan x="338" dy="15.8">配合乙方办理手续过户。</tspan></text></g>
<g id="lah4"><path d="M332,1914.2 H591"/><text x="338" y="1809.4">四、自合同签订之日起，茶山镇优速快递南白<tspan x="338" dy="15.8">象分部全部业务由乙方负责，甲方不得干涉乙</tspan><tspan x="338" dy="15.8">方正常的经营活动；乙方承诺，将严格按照国</tspan><tspan x="338" dy="15.8">家邮政管理局对快递行业的相关法律法规及优</tspan><tspan x="338" dy="15.8">速快递总公司的各项规章制度进行合法经营，</tspan><tspan x="338" dy="15.8">如发生违法违规行为，产生的一切后果由乙方</tspan><tspan x="338" dy="15.8">全部承担，甲方不承担任何责任。</tspan></text></g>
<g id="lah5"><path d="M332,2015.3 H591"/><text x="338" y="1957.9">五、甲方确保转让经营权已经优速快递总公司<tspan x="338" dy="15.8">同意，或符合优速快递总公司规章制度要求，</tspan><tspan x="338" dy="15.8">如因转让未经许可或不符合优速快递总公司规</tspan><tspan x="338" dy="15.8">章制度造成不能转让，甲方需承担违约责任。</tspan></text></g>
<g id="lah6"><path d="M332,2101 H591"/><text x="338" y="2059.4">六、甲乙双方因一方原因造成合同不能履行的<tspan x="338" dy="15.8">，需向守约方支付相当于转让费总金额20%</tspan><tspan x="338" dy="15.8">的违约金。</tspan></text></g>
<g id="lah7"><path d="M325,2240.8 H591"/><text x="338" y="2215">七、本合同一式两份，双方各执一份，自双方<tspan x="338" dy="15.8">签字之日起生效。</tspan></text></g>
<g id="lah7a"><path d="M53.3,2171 H312"/><text x="58.8" y="2145.2">甲方（公章）：________ 乙方（公章）：___<tspan x="58.8" dy="15.8">_____</tspan></text></g>
<g id="lah7b"><path d="M53.3,2240.8 H312"/><text x="58.8" y="2215">法定代表人（签字）：________ 法定代表人<tspan x="58.8" dy="15.8">（签字）：________</tspan></text></g>
<g id="lah7c"><path d="M53.3,2309.9 H312"/><text x="58.8" y="2284.1">________年___月___日 ________年___月___<tspan x="58.8" dy="15.8">__日</tspan></text></g>
</g>
<g id="lb" class="b">
<g id="lba"><path d="M719.8,2365.4 H870"/><text x="725.9" y="2355.4">出卖人：______________</text></g>
<g id="lbb"><path d="M719.8,2418.7 H870"/><text x="725.9" y="2408.7">买受人：______________</text></g>
<g id="lbc"><path d="M650,2972.6 H870"/><text x="666.5" y="2962.6">兹就机器买卖事宜，达成如下协议：</text></g>
<g id="lbc1"><path d="M380.5,2488.6 H639"/><text x="387.2" y="2462.8">第一条甲乙双方约定甲方卖出、乙方买进后记<tspan x="387.2" dy="15.8">机器。</tspan></text></g>
<g id="lbc2"><path d="M374,2585.4 H639"/><text x="387.2" y="2559.6">第二条买卖总金额为。乙方依照下列方式支付<tspan x="387.2" dy="15.8">款项予甲方。</tspan></text></g>
<g id="lbc2a"><path d="M209,2542.5 H362"/><text x="215.7" y="2532.5">1.本日先交付定金 元整。</text></g>
<g id="lbc2b"><path d="M101.8,2628.3 H362"/><text x="107.8" y="2586.7">2.甲方必须在_______年____月____日前将后记<tspan x="107.8" dy="15.8">的机器安装于乙方总公司所在地的工厂。乙方</tspan><tspan x="107.8" dy="15.8">未支付的余款，待交货时一次付清。</tspan></text></g>
<g id="lbc3"><path d="M380.5,2714.2 H639"/><text x="387.2" y="2672.6">第三条甲方于乙方按第二条第2项规定的方式<tspan x="387.2" dy="15.8">支付余款同时，应将后记机器的所有权移转予</tspan><tspan x="387.2" dy="15.8">乙方。</tspan></text></g>
<g id="lbc4"><path d="M380.5,2799.2 H639"/><text x="387.2" y="2757.6">第四条在甲方尚未将机器交付乙方时，若发生<tspan x="387.2" dy="15.8">故障、毁损或遗失，应由甲方负责，亦即免除</tspan><tspan x="387.2" dy="15.8">乙方支付价金的义务。</tspan></text></g>
<g id="lbc5"><path d="M380.5,2885.1 H639"/><text x="387.2" y="2843.5">第五条甲方保证后记机器所具有的性能与说明<tspan x="387.2" dy="15.8">书相符，并须在交付前先行试机，以证明其性</tspan><tspan x="387.2" dy="15.8">能。</tspan></text></g>
<g id="lbc6"><path d="M380.5,2986.1 H639"/><text x="387.2" y="2928.7">第六条有关后记机器的品质、性能，由甲方对<tspan x="387.2" dy="15.8">乙方保证，并以_______年为限。在此期间，</tspan><tspan x="387.2" dy="15.8">若非因乙方的过失而发生自然性故障，甲方负</tspan><tspan x="387.2" dy="15.8">有赔偿损失及修理的义务。</tspan></text></g>
<g id="lbc7"><path d="M374,3138.5 H639"/><text x="387.2" y="3081.1">第七条若发生第六条规定的情形，虽经甲方修<tspan x="387.2" dy="15.8">复，而机器仍然无法操纵，或其性能降低长达</tspan><tspan x="387.2" dy="15.8">一个月时，乙方可选择下列第_______种方式</tspan><tspan x="387.2" dy="15.8">，向甲方提出要求。</tspan></text></g>
<g id="lbc7a"><path d="M101.8,3088 H362"/><text x="107.8" y="3030.6">1.换取同种类机器。其条件为乙方须就已使用<tspan x="107.8" dy="15.8">该机器的时间长短支付货款，每使用_______</tspan><tspan x="107.8" dy="15.8">年乙方应支付甲方相当于该机器总金额五分之</tspan><tspan x="107.8" dy="15.8">一的款项。</tspan></text></g>
<g id="lbc7b"><path d="M101.8,3188.1 H362"/><text x="107.8" y="3130.7">2.退还机器。但甲方得扣除乙方使用机器所应<tspan x="107.8" dy="15.8">付如前1之款项，其余定金退还乙方。无论乙</tspan><tspan x="107.8" dy="15.8">方是否使用，从甲方交付机器日始至乙方提出</tspan><tspan x="107.8" dy="15.8">退还机器要求之日止，为使用时间。</tspan></text></g>
<g id="lbc8"><path d="M380.5,3321.1 H639"/><text x="387.2" y="3232.1">第八条乙方若未能在第二条规定的日期前支付<tspan x="387.2" dy="15.8">余额以交换机器，则甲方无需催告，本合同视</tspan><tspan x="387.2" dy="15.8">同作废，甲方得将该机器搬回。甲方的机器搬</tspan><tspan x="387.2" dy="15.8">运费、安装费以及搬回时所需的一切费用，应</tspan><tspan x="387.2" dy="15.8">由乙方负担。甲方除上述权利外，将定金没收</tspan><tspan x="387.2" dy="15.8">，作为损害赔偿。</tspan></text></g>
<g id="lbc9"><path d="M374,3455.8 H639"/><text x="387.2" y="3366.8">第九条甲方若未能在第二条所列日期前交付机<tspan x="387.2" dy="15.8">器，乙方得向甲方催告，于____日之内交付机</tspan><tspan x="387.2" dy="15.8">器。此期限届满，甲方若仍然无法交付，则本</tspan><tspan x="387.2" dy="15.8">合同视同作废。乙方得请求甲方退还第二条所</tspan><tspan x="387.2" dy="15.8">列之定金以及与定金等额的损失赔偿。本合同</tspan><tspan x="387.2" dy="15.8">一式三份，当事人及见证人各执一份为凭。</tspan></text></g>
<g id="lbc9a"><path d="M209,3375.8 H362"/><text x="215.7" y="3365.8">出卖人：______________</text></g>
<g id="lbc9b"><path d="M209,3429.7 H362"/><text x="215.7" y="3419.7">买受人：______________</text></g>
<g id="lbc9c"><path d="M209,3483.6 H362"/><text x="215.7" y="3473.6">见证人：______________</text></g>
<g id="lbc9d"><path d="M190.9,3538.3 H362"/><text x="197" y="3528.3">日期：______年___月___日</text></g>
</g>
<g id="lc" class="r">
<g id="lca"><path d="M619.2,3592.2 H870"/><text class="tr" x="625.3" y="3582.2">卖方：(以下简称甲方)买方：(以下简称乙方)</text></g>
<g id="lcb"><path d="M612,3677.2 H870"/><text class="tr" x="618" y="3635.6">根据《^v^合同法》，本着平等、自愿的原<tspan x="618" dy="15.8">则，甲方将2台南宁SC200/200施工升降机转</tspan><tspan x="618" dy="15.8">让给乙方，双方达成买卖协议如下:</tspan></text></g>
<g id="lcc"><path d="M612,3747.3 H870"/><text class="tr" x="618" y="3721.5">一、设备价格、数量及金额：大写(不含税)：<tspan x="618" dy="15.8">。</tspan></text></g>
<g id="lcd"><path d="M701,3887.1 H870"/><text class="tr" x="715" y="3877.1">二、交付方式及付款结算：</text></g>
<g id="lcd1"><path d="M506,3802 H689.5"/><text class="tr" x="512" y="3792">1.交货地点：甲方公司所在地。</text></g>
<g id="lcd2"><path d="M429,3872 H689.5"/><text class="tr" x="435" y="3846.2">2.运输方式：乙方自行承担吊车费、装车费、<tspan x="435" dy="15.8">车辆运输费用。</tspan></text></g>
<g id="lcd3"><path d="M429,3973 H689.5"/><text class="tr" x="435" y="3915.6">3.本合同签订之日，卖方支付货款总额的100<tspan x="435" dy="15.8">%。计人民币贰拾肆万元，甲方收款后开具收</tspan><tspan x="435" dy="15.8">款收据给乙方。乙方自行装车直验后无异议视</tspan><tspan x="435" dy="15.8">为合格产品。</tspan></text></g>
<g id="lce"><path d="M762,4128.7 H870"/><text class="tr" x="776.8" y="4118.7">三、其他事项：</text></g>
<g id="lce1"><path d="M490.8,4074 H750"/><text class="tr" x="496.8" y="4016.6">1.甲方提供设备随机资料给乙方，买卖合同签<tspan x="496.8" dy="15.8">订之日以前所涉及到事项由甲方负责承担，买</tspan><tspan x="496.8" dy="15.8">卖合同签订之日以后所涉及到事项由乙方负责</tspan><tspan x="496.8" dy="15.8">承担。</tspan></text></g>
<g id="lce2"><path d="M484,4182.6 H750"/><text class="tr" x="496.8" y="4156.8">2.本合同经双方签字或盖章后生效。本合同一<tspan x="496.8" dy="15.8">式贰份，卖方买方各执壹份。</tspan></text></g>
<g id="lce2a"><path d="M390.8,4128.7 H472.6"/><text class="tr" x="398" y="4118.7">卖方：买方：</text></g>
<g id="lce2b"><path d="M357.5,4182.6 H472.6"/><text class="tr" x="363.5" y="4172.6">代表人：代表人：</text></g>
<g id="lce2c"><path d="M383,4236.4 H472.6"/><text class="tr" x="389" y="4226.4">时间：时间：</text></g>
</g>
<g id="ld" class="n">
<g id="lda"><path d="M612,4306.3 H870"/><text x="618" y="4280.5">出让方：___________________________（以<tspan x="618" dy="15.8">下简称甲方）</tspan></text></g>
<g id="ldb"><path d="M807,4360.2 H870"/><text x="813" y="4350.2">联系人：</text></g>
<g id="ldc"><path d="M815,4414 H870"/><text x="822" y="4404">地 址：</text></g>
<g id="ldd"><path d="M536,4484.8 H870"/><text x="542.3" y="4459">受让方：___________________________（以<tspan x="542.3" dy="15.8">下简称乙方）</tspan></text><text x="822" y="4474.8">电 话：</text></g>
<g id="lde"><path d="M807,4538.6 H870"/><text x="813" y="4528.6">联系人：</text></g>
<g id="ldf"><path d="M815,4592.5 H870"/><text x="822" y="4582.5">地 址：</text></g>
<g id="ldg"><path d="M536,4679.2 H870"/><text x="542.3" y="4637.6">_______________（以下简称公司）是<tspan x="542.3" dy="15.8">由甲方于____年____月____日，投资注册的有</tspan><tspan x="542.3" dy="15.8">限责任公司，法人代表：_____。</tspan></text><text x="822" y="4669.2">电 话：</text></g>
<g id="ldh"><path d="M606,5438.9 H870"/><text x="618" y="5381.5">甲、乙双方经友好协商，甲方同意将其所持有<tspan x="618" dy="15.8">的_____按本协议规定的条款转让给乙方。因</tspan><tspan x="618" dy="15.8">此，依据《合同法》、《公司法》等法律法规</tspan><tspan x="618" dy="15.8">，双方就有关事宜达成协议如下：</tspan></text></g>
<g id="ldh1"><path d="M492,5014.2 H591"/><text x="509" y="5004.2">一、基本情况</text></g>
<g id="ldh1a"><path d="M223,4779.4 H481.7"/><text x="230" y="4722">（一） 甲方于____年____月__日将名为_____<tspan x="230" dy="15.8">有限公司资质转让给乙方所有，原法定代表人</tspan><tspan x="230" dy="15.8">及原股东所有权一并转让给乙方或乙方指定人</tspan><tspan x="230" dy="15.8">选。</tspan></text></g>
<g id="ldh1b"><path d="M223,4865.3 H481.7"/><text x="230" y="4823.7">（二） 甲方在本协议签订前办理或提供公司<tspan x="230" dy="15.8">股权转让所需的原公司股东同意本次股权转让</tspan><tspan x="230" dy="15.8">的决议等文件。</tspan></text></g>
<g id="ldh1c"><path d="M223,5014.2 H481.7"/><text x="230" y="4909.4">（三） 甲方承诺并保证公司转让时没有任何<tspan x="230" dy="15.8">员工的安置问题，不存在任何劳动争议纠纷、</tspan><tspan x="230" dy="15.8">债权债务等司法案件。 （四） 公司转让前（</tspan><tspan x="230" dy="15.8">本协议签订之日起为准），原公司债权债务及</tspan><tspan x="230" dy="15.8">相关法律责任由甲方承担;公司转让后（本协</tspan><tspan x="230" dy="15.8">议签订之日起为准），公司产生的债权债务及</tspan><tspan x="230" dy="15.8">相关法律责任由乙方承担。</tspan></text></g>
<g id="ldh1d"><path d="M223,5131.3 H481.7"/><text x="230" y="5058.1">（五） 双方决定于协议签订之日，甲方移交<tspan x="230" dy="15.8">公司相关资料与乙方（资料包含但不限公司营</tspan><tspan x="230" dy="15.8">业执照、税务登记证、组织机构代码证、公章</tspan><tspan x="230" dy="15.8">、财务章、银行账号、公司档案、客户培训资</tspan><tspan x="230" dy="15.8">料等。）</tspan></text></g>
<g id="ldh1e"><path d="M223,5247.5 H481.7"/><text x="230" y="5174.3">（六） 因根据相关法律法规，公司暂时不能<tspan x="230" dy="15.8">进行营业执照、法人代表、股东等相关手续变</tspan><tspan x="230" dy="15.8">更，但至可变更之日起，乙方应积极办理相关</tspan><tspan x="230" dy="15.8">事宜，甲方同时有积极配合乙方的义务（其变</tspan><tspan x="230" dy="15.8">更费用由乙方负责）。</tspan></text></g>
<g id="ldh2"><path d="M492,5419.3 H591"/><text x="509" y="5409.3">二、支付方式</text></g>
<g id="ldh2a"><path d="M223,5333 H481.7"/><text x="230" y="5291.4">转让价款共计：￥_______元（大写：人民币_<tspan x="230" dy="15.8">______________________元整），分两次付清</tspan><tspan x="230" dy="15.8">。</tspan></text></g>
<g id="ldh2b"><path d="M223,5403 H481.7"/><text x="230" y="5377.2">（一） 协议签订之时，乙方支付甲方首款：<tspan x="230" dy="15.8">￥_________元（大写：人民币______元整）；</tspan></text></g>
<g id="ldh2c"><path d="M223,5503.9 H481.7"/><text x="230" y="5446.5">（二） 待甲方交付乙方所有公司资料，乙方<tspan x="230" dy="15.8">完成法人代表、股东、营业执照等手续变更时</tspan><tspan x="230" dy="15.8">，乙方支付甲方尾款：￥_______元（大写：</tspan><tspan x="230" dy="15.8">人民币_____元整）。</tspan></text></g>
<g id="ldh3"><path d="M492,5715 H591"/><text x="509" y="5705">三、违约责任</text></g>
<g id="ldh3a"><path d="M223,5621 H481.7"/><text x="230" y="5547.8">（一）如因乙方原因导致协议无法履行或乙方<tspan x="230" dy="15.8">不履行协议的约定，则无权要求返还押金和已</tspan><tspan x="230" dy="15.8">付转让款;如因甲方原因导致本协议无法履行</tspan><tspan x="230" dy="15.8">或甲方不履行合同的约定，应当向乙方返还已</tspan><tspan x="230" dy="15.8">付转让款和押金，并赔偿乙方损失。</tspan></text></g>
<g id="ldh3b"><path d="M223,5706.4 H481.7"/><text x="230" y="5664.8">（二）乙方未能按期支付本协议的价款，或者<tspan x="230" dy="15.8">乙方未能按期交割本合同公司，每逾期一日应</tspan><tspan x="230" dy="15.8">按逾期部分金额的1%，想对方支付违约金。</tspan></text></g>
<g id="ldh3c"><path d="M223,5807.2 H481.7"/><text x="230" y="5749.8">（三）一方违约给另一方造成直接经济损失，<tspan x="230" dy="15.8">且违约方支付违约金的数额不足以补偿对付的</tspan><tspan x="230" dy="15.8">经济损失时，违约方应偿付对方所受损失的差</tspan><tspan x="230" dy="15.8">额部分。</tspan></text></g>
<g id="ldh4"><path d="M466.5,5862 H591"/><text x="472.6" y="5852">四、合同变更和解除</text></g>
<g id="ldi"><path d="M606,6255 H870"/><text x="618" y="6229.2">当发生下列情形之一时，可以变更、解除合同<tspan x="618" dy="15.8">：</tspan></text></g>
<g id="ldi1"><path d="M332,5948.3 H591"/><text x="338" y="5906.7">（一）因情况发生变化，当事人双方协商一致<tspan x="338" dy="15.8">，并订立了变更或解除协议，而且不因此损害</tspan><tspan x="338" dy="15.8">国家和社会公众利益的。</tspan></text></g>
<g id="ldi2"><path d="M332,6017.5 H591"/><text x="338" y="5991.7">（二）由于不可抗力因素致本合同的条款不能<tspan x="338" dy="15.8">履行的。</tspan></text></g>
<g id="ldi3"><path d="M332,6087.6 H591"/><text x="338" y="6061.8">（三）由于一方在协议约定的期限内因故没有<tspan x="338" dy="15.8">履行合同，另一方予以书面认同的。</tspan></text></g>
<g id="ldi4"><path d="M332,6203.8 H591"/><text x="338" y="6130.6">（四）由于甲方在协议签订之前有未偿清的债<tspan x="338" dy="15.8">权债务，导致乙方无法正常经营，甲方五条件</tspan><tspan x="338" dy="15.8">退还乙方的所有转让费用和押金，并承担乙方</tspan><tspan x="338" dy="15.8">的所有经济损失。本合同如需变更或解除，甲</tspan><tspan x="338" dy="15.8">、乙双方必须签订变更或解除协议。</tspan></text></g>
<g id="ldi5"><path d="M332,6319.3 H591"/><text x="338" y="6246.1">（五）在签订协议后，乙方承诺诚信经营、遵<tspan x="338" dy="15.8">守行业规定、遵守国家及地方法律法规，如因</tspan><tspan x="338" dy="15.8">违反给甲方造成名誉及经济损失，甲方有权解</tspan><tspan x="338" dy="15.8">除合同，并不退还乙方已付款项及押金，如情</tspan><tspan x="338" dy="15.8">节严重，将追究乙方相关法律责任。</tspan></text></g>
<g id="ldi6"><path d="M490.8,6423 H591"/><text x="496.8" y="6413">五、争议解决：</text></g>
<g id="ldi6a"><path d="M210.9,6423 H480"/><text x="217" y="6365.6">若双方当事人因履行本协议或与本协议有关事<tspan x="217" dy="15.8">项发生争议，双方均应先通过友好协商解决;</tspan><tspan x="217" dy="15.8">协商不成的，可以申请仲裁或者向人民法院提</tspan><tspan x="217" dy="15.8">起诉讼。</tspan></text></g>
<g id="ldi7"><path d="M490.8,6476.5 H591"/><text x="496.8" y="6466.5">六、补充条款：</text></g>
<g id="ldi8"><path d="M332,6561.7 H591"/><text x="338" y="6520.1">七、以上所述为双方真实意思表示，所签订内<tspan x="338" dy="15.8">容双方均已仔细阅读理解并无任何异议。本协</tspan><tspan x="338" dy="15.8">议一式两份，经双方当事人签字后生效。</tspan></text></g>
<g id="ldj"><path d="M819,6616.2 H870"/><text x="825" y="6606.2">甲方：</text></g>
<g id="ldk"><path d="M687.7,6670.6 H870"/><text x="693.7" y="6660.6">__年___月___日</text><text x="825" y="6660.6">乙方：</text></g>
</g>
</g>
</svg>
